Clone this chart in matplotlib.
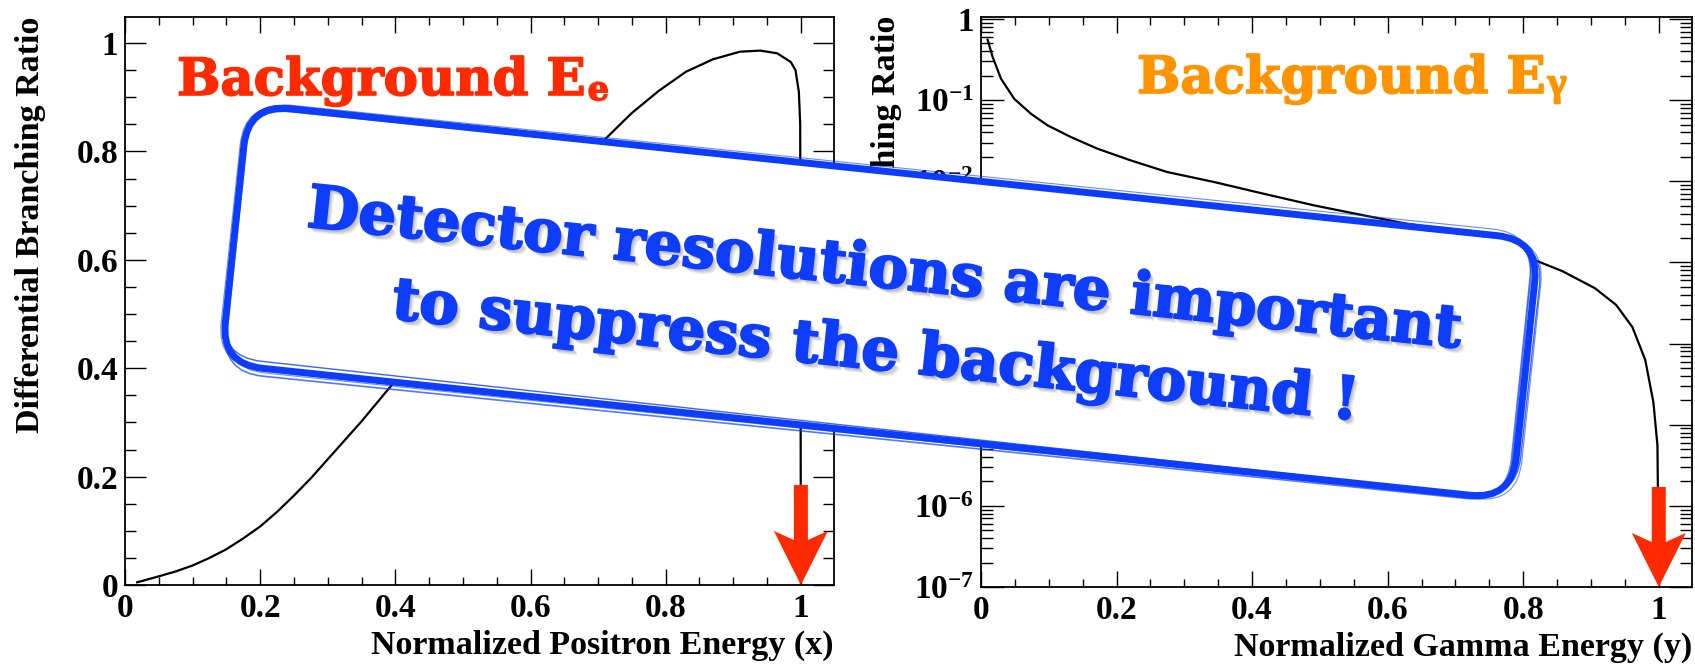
import math
import matplotlib
matplotlib.use("Agg")
import matplotlib.pyplot as plt
import matplotlib.transforms as mtransforms
import matplotlib.patheffects as pe
from matplotlib.patches import FancyBboxPatch, Polygon
from matplotlib.ticker import (FixedLocator, MultipleLocator, LogLocator,
                               NullFormatter, FuncFormatter)

# ---- data -------------------------------------------------------------
# Radiative muon decay background: positron energy spectrum
positron_x = [0.018, 0.05, 0.075, 0.10, 0.125, 0.15, 0.175, 0.20, 0.225,
              0.25, 0.275, 0.30, 0.325, 0.35, 0.39, 0.45, 0.50, 0.55, 0.60,
              0.65, 0.70, 0.75, 0.79, 0.83, 0.87, 0.91, 0.94, 0.965, 0.985,
              0.992, 0.997, 0.999, 1.0]
positron_br = [0.005, 0.016, 0.025, 0.036, 0.050, 0.066, 0.086, 0.108, 0.135,
               0.165, 0.197, 0.232, 0.267, 0.302, 0.362, 0.45, 0.525, 0.60,
               0.675, 0.745, 0.81, 0.871, 0.912, 0.947, 0.970, 0.984, 0.986,
               0.981, 0.965, 0.95, 0.91, 0.85, 0.0]

# Radiative muon decay background: gamma energy spectrum
gamma_y = [0.0098, 0.0172, 0.0295, 0.049, 0.0737, 0.0983, 0.1327, 0.172,
           0.221, 0.275, 0.344, 0.418, 0.492, 0.565, 0.629, 0.68, 0.72, 0.76,
           0.811, 0.858, 0.906, 0.937, 0.961, 0.980, 0.992, 0.998, 1.0]
gamma_br = [0.556, 0.34, 0.184, 0.104, 0.068, 0.0489, 0.0351, 0.0252, 0.0181,
            0.013, 0.0098, 0.0070, 0.00504, 0.0038, 0.00299, 0.0026, 0.0021,
            0.0016, 0.00112, 7.8e-4, 4.8e-4, 3.0e-4, 1.6e-4, 6.3e-5, 1.9e-5,
            5.6e-6, 1.5e-7]

energy_ticks = [0, 0.2, 0.4, 0.6, 0.8, 1.0]
linear_br_ticks = [0, 0.2, 0.4, 0.6, 0.8, 1.0]
log_br_decades = [-7, -6, -5, -4, -3, -2, -1, 0]

signal_endpoint = 1.0   # signal sits at the kinematic endpoint

x_label_left = "Normalized Positron Energy (x)"
x_label_right = "Normalized Gamma Energy (y)"
y_label = "Differential Branching Ratio"
title_main = "Background E"
title_sub_left = "e"
title_sub_right = "\u03b3"
message_lines = ["Detector resolutions are important",
                 "to suppress the background !"]

# ---- style ------------------------------------------------------------
W, H, DPI = 1695, 664, 100
RED = "#ff2a00"
ORANGE = "#ff9400"
BLUE = "#0d3dfa"

plt.rcParams.update({
    "font.family": ["Liberation Serif", "DejaVu Serif"],
    "font.weight": "bold",
    "axes.labelweight": "bold",
    "mathtext.fontset": "custom",
    "mathtext.rm": "Liberation Serif:bold",
    "mathtext.bf": "Liberation Serif:bold",
    "mathtext.it": "Liberation Serif:bold:italic",
    "mathtext.default": "bf",
    "axes.linewidth": 1.3,
})

fig = plt.figure(figsize=(W / DPI, H / DPI), dpi=DPI, facecolor="white")


def px_axes(left, top, right, bottom):
    return fig.add_axes([left / W, 1 - bottom / H,
                         (right - left) / W, (bottom - top) / H])


axL = px_axes(125, 17, 834, 585)
axR = px_axes(981, 17, 1692, 587)

fmt_g = FuncFormatter(lambda v, p: f"{v:g}")


def root_style(ax, ymajor, yminor):
    ax.tick_params(which="both", direction="in", top=True, right=True,
                   labelsize=24, width=1.0, color="black")
    ax.tick_params(axis="x", which="major", length=11.5, pad=5.5)
    ax.tick_params(axis="x", which="minor", length=6)
    ax.tick_params(axis="y", which="major", length=ymajor, pad=5)
    ax.tick_params(axis="y", which="minor", length=yminor)
    ax.xaxis.set_major_locator(FixedLocator(energy_ticks))
    ax.xaxis.set_minor_locator(MultipleLocator(0.05))
    ax.xaxis.set_major_formatter(fmt_g)
    ax.set_xlim(0, 1.049)


# left panel: linear scale
axL.plot(positron_x, positron_br, color="black", lw=1.6)
root_style(axL, 15, 8)
axL.set_ylim(0, 1.048)
axL.yaxis.set_major_locator(FixedLocator(linear_br_ticks))
axL.yaxis.set_minor_locator(MultipleLocator(0.05))
axL.yaxis.set_major_formatter(fmt_g)
axL.set_xlabel(x_label_left, fontsize=24.5, weight="bold", loc="right")
axL.xaxis.set_label_coords(1.0, -0.1215)
axL.xaxis.label.set_va("baseline")
axL.set_ylabel(y_label, fontsize=24.5, weight="bold", loc="top")
axL.yaxis.set_label_coords(-0.1213, 1.0)
axL.yaxis.label.set_va("baseline")

# right panel: logarithmic scale
axR.plot(gamma_y, gamma_br, color="black", lw=1.6)
axR.set_yscale("log")
root_style(axR, 16.5, 8.6)
axR.set_ylim(1e-7, 1.06)
axR.yaxis.set_major_locator(FixedLocator([10.0 ** e for e in log_br_decades]))
axR.yaxis.set_minor_locator(LogLocator(base=10, subs=range(2, 10), numticks=20))
axR.yaxis.set_minor_formatter(NullFormatter())


def decade_label(v, p):
    e = int(round(math.log10(v)))
    return "1" if e == 0 else rf"$10^{{{e}}}$"


axR.yaxis.set_major_formatter(FuncFormatter(decade_label))
axR.set_xlabel(x_label_right, fontsize=24.5, weight="bold", loc="right")
axR.xaxis.set_label_coords(1.0, -0.121)
axR.xaxis.label.set_va("baseline")
axR.set_ylabel(y_label, fontsize=24.5, weight="bold", loc="top")
axR.yaxis.set_label_coords(-0.1203, 1.003)
axR.yaxis.label.set_va("baseline")

# red arrows marking the endpoint (shape in inches, anchored at the tip)
arrow_shape = [(0, 0), (0.27, 0.54), (0.07, 0.45), (0.07, 1.0),
               (-0.07, 1.0), (-0.07, 0.45), (-0.27, 0.54)]
for ax in (axL, axR):
    tip_y = ax.get_ylim()[0]
    trans = fig.dpi_scale_trans + mtransforms.ScaledTranslation(
        signal_endpoint, tip_y, ax.transData)
    ax.add_patch(Polygon(arrow_shape, closed=True, transform=trans,
                         facecolor=RED, edgecolor="none", clip_on=False,
                         zorder=10))

# ---- overlay in pixel coordinates ----------------------------------------
ov = fig.add_axes([0, 0, 1, 1])
ov.set_xlim(0, W)
ov.set_ylim(H, 0)
ov.axis("off")
ov.set_zorder(5)

cx, cy, bw, bh, ang = 880, 302, 1298, 261, 6.0


def rounded_box(dx=0, dy=0, dw=0, dh=0, da=0.0, **kw):
    rot = mtransforms.Affine2D().rotate_deg_around(cx + dx, cy + dy, ang + da)
    w, h = bw + dw, bh + dh
    p = FancyBboxPatch((cx + dx - w / 2, cy + dy - h / 2), w, h,
                       boxstyle="round,pad=0,rounding_size=42",
                       transform=rot + ov.transData, **kw)
    ov.add_patch(p)
    return p


# hand-drawn looking frame: one heavy stroke plus a few loose thin ones
rounded_box(fc="white", ec=BLUE, lw=5.0, zorder=1)
for dx, dy, dw, dh, da, lw, al in [(2, -2, 6, -4, 0.25, 1.0, 0.8),
                                   (-2, 3, -5, 5, -0.2, 1.2, 0.7),
                                   (1, 1, 10, 2, 0.1, 0.8, 0.6),
                                   (-1, -1, -8, 8, -0.12, 0.8, 0.6)]:
    rounded_box(dx, dy, dw, dh, da, fc="none", ec=BLUE, lw=lw, alpha=al,
                zorder=2)

shadow = [pe.SimplePatchShadow(offset=(1.5, -2), shadow_rgbFace="black", alpha=0.10),
          pe.SimplePatchShadow(offset=(2.5, -3), shadow_rgbFace="black", alpha=0.10),
          pe.SimplePatchShadow(offset=(3.5, -4), shadow_rgbFace="black", alpha=0.08),
          pe.Stroke(linewidth=1.6, foreground=BLUE),
          pe.Normal()]
for (tx, ty), line in zip([(882, 287), (873, 369)], message_lines):
    ov.text(tx, ty, line, rotation=-6, rotation_mode="anchor", ha="center",
            va="baseline", fontsize=42.5, family="DejaVu Serif",
            weight="bold", color=BLUE, path_effects=shadow, zorder=3)

# panel titles with subscripts
fig.canvas.draw()
renderer = fig.canvas.get_renderer()
for (tx, ty), col, sub, sub_fam, sub_size, sub_dy in [
        ((177, 95), RED, title_sub_left, "DejaVu Serif", 24, 5),
        ((1137, 93), ORANGE, title_sub_right, "Liberation Serif", 29, 2)]:
    heavy = [pe.Stroke(linewidth=1.2, foreground=col), pe.Normal()]
    t = ov.text(tx, ty, title_main, ha="left", va="baseline", fontsize=37,
                family="DejaVu Serif", weight="bold", color=col, zorder=4,
                path_effects=heavy)
    bb = t.get_window_extent(renderer)
    ov.text(bb.x1 + 2, ty + sub_dy, sub, ha="left", va="baseline",
            fontsize=sub_size, family=sub_fam, weight="bold", color=col,
            zorder=4, path_effects=heavy)

fig.savefig("out.png", dpi=DPI, facecolor="white")
